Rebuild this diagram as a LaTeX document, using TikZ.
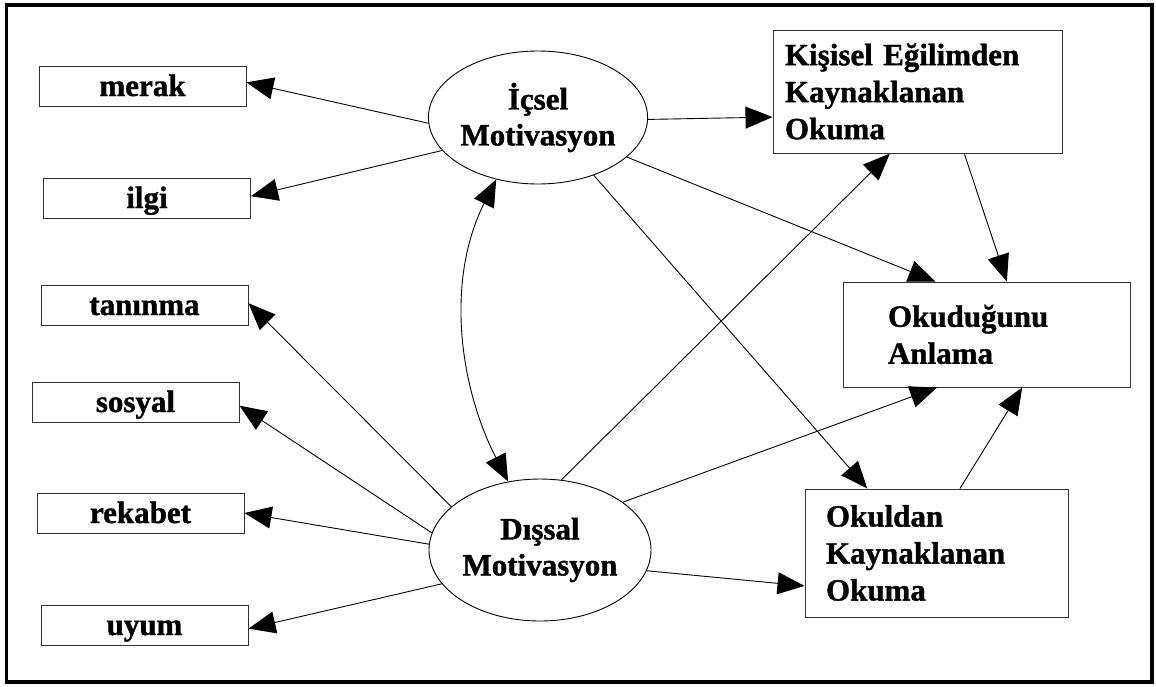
\documentclass[tikz,border=0pt]{standalone}
\usepackage{fontspec}
\setmainfont{Liberation Serif}[FakeBold=1.2]
\usetikzlibrary{arrows.meta,calc,shapes.geometric}
\begin{document}
\begin{tikzpicture}[x=1pt,y=-1pt,
  every node/.style={font=\fontsize{31}{37}\selectfont\bfseries},
  item/.style={draw=black!80, line width=1pt, rectangle, inner sep=0pt,
    text height=20pt, text depth=0pt, minimum width=207pt, minimum height=40pt},
  motive/.style={draw, ellipse, line width=0.9pt, inner sep=0pt, align=center,
    font=\fontsize{31}{36}\selectfont\bfseries},
  outcome/.style={draw=black!80, line width=1pt, rectangle, align=left, inner ysep=0pt},
  link/.style={line width=0.9pt, -{Triangle[length=27pt,width=22pt]}},
  twoway/.style={line width=0.9pt, {Triangle[length=27pt,width=22pt]}-{Triangle[length=27pt,width=22pt]}},
]
\useasboundingbox (0,0) rectangle (1156,686);
\draw[line width=3.5pt] (6.5,5) rectangle (1152,682);

% indicator boxes
\node[item] (merak)   at (142.5,86)  {merak};
\node[item] (ilgi)    at (147,198)   {ilgi};
\node[item] (taninma) at (144.5,305) {tanınma};
\node[item] (sosyal)  at (135.5,402) {sosyal};
\node[item] (rekabet) at (140.5,513) {rekabet};
\node[item] (uyum)    at (144.5,625) {uyum};

% latent motivation factors
\node[motive, minimum width=218pt, minimum height=133pt] (ic) at (538,117.5) {İçsel\\Motivasyon};
\node[motive, minimum width=222pt, minimum height=142pt] (ds) at (540,550) {Dışsal\\Motivasyon};

% reading and comprehension outcomes
\node[outcome, minimum height=123pt, text width=265pt, inner xsep=12pt] (kisisel) at (917.5,91.5)
  {Kişisel Eğilimden\\Kaynaklanan\\Okuma};
\node[outcome, minimum height=105pt, text width=197pt, inner xsep=45pt] (anlama) at (986.5,334.5)
  {Okuduğunu\\Anlama};
\node[outcome, minimum height=128pt, text width=221pt, inner xsep=21pt] (okul) at (936.5,553)
  {Okuldan\\Kaynaklanan\\Okuma};

% paths
\draw[link] (ic.183) -- (merak.2);
\draw[link] (ic.199) -- (ilgi.1);
\draw[link] (ds.154) -- (taninma.1);
\draw[link] (ds.171) -- (sosyal.-2);
\draw[link] (ds.177) -- (rekabet.0);
\draw[link] (ds.199) -- (uyum.-2);
\draw[link] (ic.-1) -- (kisisel.190);
\draw[link] (ic.-24) -- (anlama.134);
\draw[link] (ic.-46) -- (okul.137);
\draw[link] (ds.73) -- (kisisel.246);
\draw[link] (ds.30) -- (anlama.227);
\draw[link] (ds.-11) -- (okul.194);
\draw[link] (kisisel.-53.5) -- (anlama.69);
\draw[link] (okul.70.6) -- (anlama.-56);
\draw[twoway] (ds.115) .. controls ($(ds.115)+(-50,-98)$) and ($(ic.236)+(-50,99)$) .. (ic.236);
\end{tikzpicture}
\end{document}
